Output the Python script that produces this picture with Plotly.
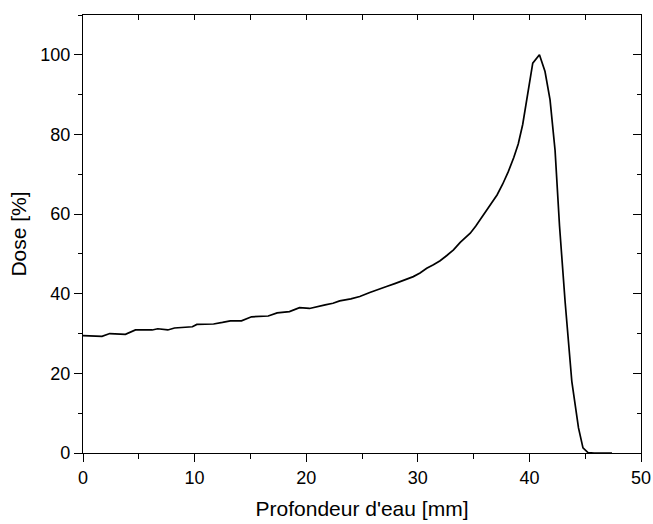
import plotly.graph_objects as go

depth_mm = [0, 1, 1.7, 2.4, 3.8, 4.7, 6.2, 6.7, 7.6, 8.2, 9.8, 10.2, 11.7, 12.5, 13.2, 14.2,
            15.1, 16.6, 17.4, 18.5, 19.4, 20.3, 21.0, 21.7, 22.4, 23, 24, 24.8, 25.7, 26.5,
            27.2, 28, 28.7, 29.6, 30.2, 30.8, 31.4, 32, 32.6, 33.2, 33.8, 34.7, 35.2, 35.6,
            36.1, 36.6, 37.1, 37.6, 38.1, 38.6, 39.0, 39.4, 39.8, 40.3, 40.9, 41.4, 41.85,
            42.3, 42.7, 43.2, 43.8, 44.4, 44.8, 45.25, 45.8, 46.5, 47.4]
dose_pct = [29.5, 29.4, 29.3, 30.0, 29.8, 30.9, 30.9, 31.2, 30.9, 31.4, 31.7, 32.3, 32.4, 32.8,
            33.2, 33.2, 34.2, 34.4, 35.2, 35.5, 36.5, 36.3, 36.8, 37.2, 37.6, 38.2, 38.7, 39.3,
            40.3, 41.0, 41.8, 42.6, 43.3, 44.3, 45.2, 46.4, 47.3, 48.3, 49.6, 51.0, 52.9, 55.2,
            57.0, 58.6, 60.5, 62.6, 64.8, 67.5, 70.6, 74.2, 77.6, 82.5, 89.5, 97.9, 100.0, 95.8,
            88.7, 76.0, 57.0, 38.0, 18.0, 6.3, 1.3, 0.1, 0.0, 0.0, 0.0]

x_ticks = [0, 10, 20, 30, 40, 50]
y_ticks = [0, 20, 40, 60, 80, 100]

FONT = "Liberation Sans, Arial, sans-serif"

fig = go.Figure()
fig.add_trace(go.Scatter(x=depth_mm, y=dose_pct, mode="lines",
                         line=dict(color="black", width=1.7), showlegend=False))
fig.add_trace(go.Scatter(x=depth_mm, y=dose_pct, mode="lines", xaxis="x2", yaxis="y2",
                         line=dict(color="rgba(0,0,0,0)", width=0), showlegend=False,
                         hoverinfo="skip"))

axis_common = dict(showgrid=False, zeroline=False, showline=True, linecolor="black",
                   linewidth=1.3, tickcolor="black", tickwidth=1.3, automargin=False)

fig.update_layout(
    width=653, height=524,
    margin=dict(l=83, r=12, t=15, b=71),
    paper_bgcolor="white", plot_bgcolor="white",
    font=dict(family=FONT, color="black", size=18),
    xaxis=dict(range=[0, 50], tickvals=x_ticks, ticktext=[str(v) for v in x_ticks],
               ticks="outside", ticklen=8,
               minor=dict(dtick=5, ticks="outside", ticklen=5, tickcolor="black", tickwidth=1.3),
               tickfont=dict(size=18, family=FONT),
               title=dict(text="Profondeur d'eau [mm]", font=dict(size=21, family=FONT), standoff=14),
               **axis_common),
    yaxis=dict(range=[0, 110], tickvals=y_ticks, ticktext=[str(v) for v in y_ticks],
               ticks="outside", ticklen=8,
               minor=dict(dtick=10, ticks="outside", ticklen=4, tickcolor="black", tickwidth=1.3),
               tickfont=dict(size=18, family=FONT),
               title=dict(text="Dose [%]", font=dict(size=21, family=FONT), standoff=7),
               **axis_common),
    xaxis2=dict(range=[0, 50], overlaying="x", side="top", tickvals=x_ticks, showticklabels=False,
                ticks="inside", ticklen=5,
                minor=dict(dtick=5, ticks="inside", ticklen=5, tickcolor="black", tickwidth=1.3),
                **axis_common),
    yaxis2=dict(range=[0, 110], overlaying="y", side="right", tickvals=y_ticks, showticklabels=False,
                ticks="inside", ticklen=8,
                minor=dict(dtick=10, ticks="inside", ticklen=4, tickcolor="black", tickwidth=1.3),
                **axis_common),
)

fig.write_html("out.html")
